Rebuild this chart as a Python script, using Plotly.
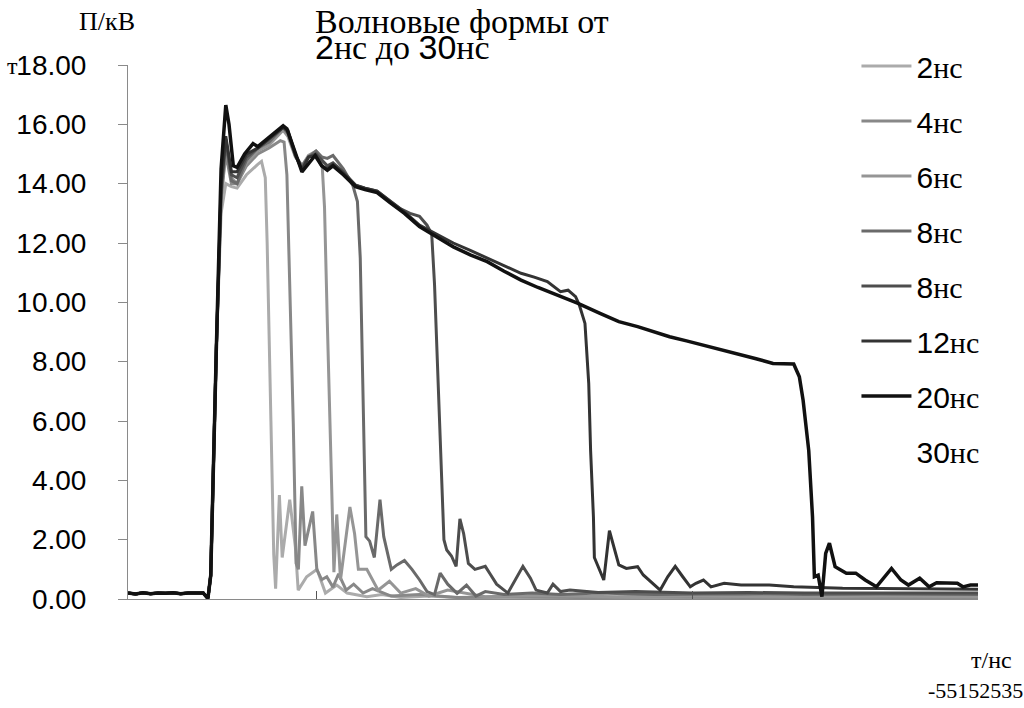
import plotly.graph_objects as go

# ---- data (time in нс, amplitude in кВ) ----
lead_t = [0.0, 0.4, 0.8, 1.2, 1.6, 2.0, 2.4, 2.8, 3.2, 3.6, 4.0, 4.25, 4.4, 4.7]
lead_v = [0.20, 0.17, 0.21, 0.18, 0.20, 0.19, 0.21, 0.18, 0.20, 0.19, 0.20, 0.02, 0.80, 8.50]

t_2 = [4.95, 5.2, 5.5, 5.8, 6.3, 6.9, 7.1, 7.3, 7.4, 7.6, 7.75, 7.85, 8.05, 8.2, 8.6, 8.9, 9.05, 9.5,
       10.05, 10.5, 11.1, 11.65, 12.7, 13.5, 14.5, 16.0, 18.0, 21.0, 25.0, 30.0, 35.0, 40.0, 45.2]
v_2 = [13.0, 14.0, 13.9, 13.85, 14.3, 14.65, 14.75, 14.2, 12.0, 6.0, 1.5, 0.35, 3.5, 1.4, 3.35, 1.75, 0.3, 0.75,
       1.0, 0.2, 0.47, 0.2, 0.08, 0.15, 0.05, 0.1, 0.03, 0.05, 0.03, 0.04, 0.03, 0.05, 0.04]

t_4 = [4.95, 5.2, 5.5, 5.8, 6.3, 6.9, 7.5, 8.1, 8.3, 8.45, 8.62, 8.79, 8.94, 9.06, 9.24, 9.41, 9.82, 10.04,
       10.3, 10.57, 10.9, 11.2, 11.6, 12.0, 12.5, 13.0, 14.0, 15.5, 17.5, 20.0, 24.0, 28.0, 33.0, 38.0, 45.2]
v_4 = [13.5, 15.0, 14.0, 14.0, 14.6, 15.0, 15.2, 15.45, 15.4, 14.3, 10.4, 5.9, 1.2, 1.0, 3.8, 1.8, 2.95, 1.0,
       0.65, 0.75, 0.4, 0.85, 0.3, 0.5, 0.2, 0.35, 0.1, 0.15, 0.05, 0.08, 0.05, 0.07, 0.05, 0.06, 0.05]

t_6 = [4.95, 5.2, 5.5, 5.8, 6.3, 6.9, 7.5, 8.25, 8.5, 8.9, 9.25, 9.6, 10.0, 10.3, 10.45, 10.6, 10.8, 10.95,
       11.1, 11.3, 11.8, 12.05, 12.25, 12.7, 13.3, 13.9, 14.5, 15.3, 16.0, 17.0, 19.0, 22.0, 26.0, 30.0, 35.0,
       40.0, 45.2]
v_6 = [13.5, 15.2, 14.2, 14.0, 14.7, 15.1, 15.3, 15.8, 15.6, 14.9, 14.6, 14.95, 15.1, 14.9, 13.2, 9.3, 4.8, 0.9,
       2.85, 0.65, 3.1, 2.2, 1.0, 1.0, 0.3, 0.6, 0.2, 0.35, 0.1, 0.3, 0.08, 0.12, 0.08, 0.1, 0.07,
       0.1, 0.08]

t_8a = [4.95, 5.2, 5.5, 5.8, 6.3, 6.9, 7.5, 8.25, 8.5, 8.9, 9.25, 9.6, 10.0, 10.3, 10.6, 10.9, 11.45, 11.95,
        12.2, 12.35, 12.5, 12.65, 12.85, 13.1, 13.4, 13.6, 14.0, 14.3, 14.7, 15.1, 15.5, 15.9, 16.3, 16.6,
        17.0, 17.5, 18.0, 18.5, 19.0, 20.0, 21.5, 23.0, 25.0, 28.0, 32.0, 36.0, 40.0, 45.2]
v_8a = [13.6, 15.4, 14.1, 14.0, 14.8, 15.2, 15.4, 15.9, 15.7, 14.95, 14.6, 14.9, 15.1, 14.9, 14.85, 14.95, 14.5, 13.95,
        13.4, 11.5, 7.0, 2.1, 1.95, 1.4, 3.35, 2.1, 1.0, 1.15, 1.3, 1.0, 0.65, 0.25, 0.15, 0.87,
        0.5, 0.19, 0.47, 0.1, 0.25, 0.15, 0.2, 0.15, 0.2, 0.15, 0.18, 0.15, 0.17, 0.15]

t_8b = [4.95, 5.2, 5.5, 5.8, 6.3, 6.9, 7.5, 8.25, 8.5, 8.9, 9.25, 9.6, 10.0, 10.3, 10.6, 10.9, 11.45, 12.1,
        12.6, 13.25, 13.95, 14.5, 15.0, 15.5, 15.9, 16.15, 16.3, 16.5, 16.6, 16.8, 16.95, 17.2, 17.45, 17.65,
        17.85, 18.1, 18.45, 19.0, 19.25, 19.6, 20.2, 20.6, 21.0, 21.4, 21.7, 22.3, 22.6, 23.0, 23.5, 25.0,
        27.0, 30.0, 33.0, 36.0, 39.0, 42.0, 45.2]
v_8b = [13.8, 15.5, 14.3, 14.2, 14.9, 15.2, 15.5, 15.9, 15.75, 14.95, 14.5, 14.9, 15.0, 14.8, 14.6, 14.7, 14.4, 13.95,
        13.85, 13.75, 13.4, 13.15, 13.0, 12.9, 12.6, 12.3, 10.6, 7.3, 5.0, 2.0, 1.65, 1.45, 1.1, 2.7,
        2.2, 1.2, 1.0, 1.1, 0.85, 0.5, 0.2, 0.65, 1.1, 0.7, 0.3, 0.2, 0.5, 0.25, 0.3, 0.22,
        0.25, 0.2, 0.22, 0.2, 0.21, 0.2, 0.2]

t_12 = [4.95, 5.2, 5.5, 5.8, 6.3, 6.9, 7.5, 8.25, 8.5, 8.9, 9.25, 9.6, 10.0, 10.3, 10.6, 10.9, 11.45, 12.1,
        12.6, 13.25, 13.95, 14.7, 15.5, 16.4, 17.3, 18.2, 19.1, 20.0, 20.9, 21.6, 22.3, 23.0, 23.4, 23.8,
        24.0, 24.3, 24.5, 24.6, 24.75, 24.8, 25.3, 25.6, 26.1, 26.5, 27.1, 27.4, 27.9, 28.3, 28.7, 29.1,
        29.5, 29.9, 30.2, 30.6, 31.0, 31.7, 32.6, 34.1, 35.4, 36.5, 38.0, 40.0, 42.0, 44.0, 45.2]
v_12 = [14.0, 15.6, 14.4, 14.4, 15.0, 15.2, 15.5, 15.9, 15.8, 15.0, 14.45, 14.9, 14.95, 14.6, 14.5, 14.65, 14.35, 13.95,
        13.85, 13.75, 13.4, 13.05, 12.6, 12.3, 12.0, 11.75, 11.5, 11.25, 10.98, 10.85, 10.7, 10.36, 10.41, 10.19,
        9.91, 9.29, 7.27, 5.0, 2.77, 1.4, 0.64, 2.3, 1.15, 1.03, 1.09, 0.81, 0.53, 0.3, 0.75, 1.1,
        0.75, 0.41, 0.53, 0.64, 0.41, 0.53, 0.47, 0.47, 0.41, 0.38, 0.36, 0.35, 0.34, 0.33, 0.33]

t_20 = [4.95, 5.2, 5.37, 5.6, 5.8, 6.2, 6.65, 6.9, 7.55, 8.25, 8.45, 8.9, 9.25, 9.95, 10.3, 10.6, 10.9, 11.45,
        12.1, 12.6, 13.25, 13.95, 14.7, 15.5, 16.4, 17.3, 18.2, 19.1, 20.0, 20.9, 21.8, 22.6, 23.9, 25.1,
        26.1, 27.1, 28.0, 28.8, 29.7, 30.6, 31.5, 32.4, 33.4, 34.3, 35.0, 35.4, 35.7, 35.9, 36.2, 36.4,
        36.5, 36.7, 36.9, 37.1, 37.3, 37.6, 37.9, 38.2, 38.7, 39.2, 39.8, 40.2, 40.6, 41.1, 41.5, 42.1,
        42.6, 43.0, 43.5, 44.1, 44.4, 44.8, 45.2]
v_20 = [14.5, 16.65, 16.0, 14.6, 14.55, 15.0, 15.35, 15.25, 15.6, 15.95, 15.85, 15.0, 14.4, 14.95, 14.6, 14.45, 14.6, 14.3,
        13.9, 13.8, 13.7, 13.35, 13.0, 12.55, 12.2, 11.87, 11.6, 11.37, 11.05, 10.75, 10.5, 10.3, 9.97, 9.63,
        9.35, 9.18, 9.0, 8.84, 8.7, 8.56, 8.4, 8.28, 8.1, 7.94, 7.94, 7.92, 7.49, 6.7, 5.0, 2.77,
        0.75, 0.8, 0.08, 1.54, 1.88, 1.09, 0.98, 0.87, 0.87, 0.64, 0.41, 0.7, 1.03, 0.64, 0.47, 0.7,
        0.41, 0.55, 0.55, 0.53, 0.41, 0.47, 0.47]

t_30 = []
v_30 = []

series_names = ["2нс", "4нс", "6нс", "8нс", "8нс", "12нс", "20нс", "30нс"]
series_t = [t_2, t_4, t_6, t_8a, t_8b, t_12, t_20, t_30]
series_v = [v_2, v_4, v_6, v_8a, v_8b, v_12, v_20, v_30]
y_ticks = [0, 2, 4, 6, 8, 10, 12, 14, 16, 18]
x_ticks = [10, 30]

colors = ["#ababab", "#888888", "#959595", "#6a6a6a", "#4d4d4d", "#333333", "#111111", "#ffffff"]
widths = [3, 3, 3, 3, 3, 3, 3.5, 3]

SERIF = "Liberation Serif"
SANS = "Liberation Sans"


def mixed(label):
    digits = "".join(ch for ch in label if ch.isdigit())
    rest = label[len(digits):]
    return f"{digits}<span style='font-family:{SERIF}'>{rest}</span>"


fig = go.Figure()
for i, (name, tt, vv) in enumerate(zip(series_names, series_t, series_v)):
    if tt:
        xs, ys = lead_t + tt, lead_v + vv
    else:
        xs, ys = [None], [None]
    fig.add_trace(go.Scatter(
        x=xs, y=ys, mode="lines", name=mixed(name),
        line=dict(color=colors[i], width=widths[i]),
        legendgroup=f"g{i}", showlegend=True,
    ))

fig.update_layout(
    width=1024, height=708,
    margin=dict(l=128, r=46, t=65, b=109),
    paper_bgcolor="white", plot_bgcolor="white",
    font=dict(family=SANS, size=28, color="black"),
    showlegend=True,
    legend=dict(
        x=0.857, y=1.047, xanchor="left", yanchor="top",
        font=dict(family=SANS, size=30, color="black"),
        traceorder="grouped", tracegroupgap=13,
        itemwidth=50, bgcolor="rgba(0,0,0,0)", maxheight=700,
    ),
    xaxis=dict(
        range=[0, 45.2], showgrid=False, zeroline=False,
        showline=True, linecolor="#8a8a8a", linewidth=1,
        ticks="inside", ticklen=8, tickcolor="#555555",
        tickvals=x_ticks, showticklabels=False, automargin=False,
    ),
    yaxis=dict(
        range=[0, 18], showgrid=False, zeroline=False,
        showline=True, linecolor="#8a8a8a", linewidth=1,
        ticks="outside", ticklen=9, tickcolor="#8a8a8a",
        tickvals=y_ticks, tickformat=".2f",
        tickfont=dict(family=SANS, size=28, color="black"),
        ticklabelstandoff=26, automargin=False,
    ),
)

def px2x(px):
    return (px - 128) / 850

def py2y(py):
    return (599 - py) / 534

annots = [
    dict(text="Волновые формы от", x=px2x(313), y=py2y(22), xanchor="left",
         font=dict(family=SERIF, size=34)),
    dict(text=f"<span style='font-family:{SANS}'>2</span>нс до <span style='font-family:{SANS}'>30</span>нс",
         x=px2x(313), y=py2y(47), xanchor="left", font=dict(family=SERIF, size=34)),
    dict(text="П/кВ", x=px2x(107), y=py2y(22), xanchor="center", font=dict(family=SERIF, size=26)),
    dict(text="т", x=px2x(20), y=py2y(66), xanchor="right", font=dict(family=SERIF, size=24)),
    dict(text="т/нс", x=px2x(991), y=py2y(660), xanchor="center", font=dict(family=SERIF, size=24)),
    dict(text="-55152535", x=px2x(975), y=py2y(690), xanchor="center",
         font=dict(family="Liberation Sans Narrow", size=22)),
]
for a in annots:
    fig.add_annotation(xref="paper", yref="paper", yanchor="middle", showarrow=False,
                       font_color="black", **{k: v for k, v in a.items()})

fig.write_html("out.html", post_script="document.body.style.margin='0';",
               config={"displayModeBar": False})
